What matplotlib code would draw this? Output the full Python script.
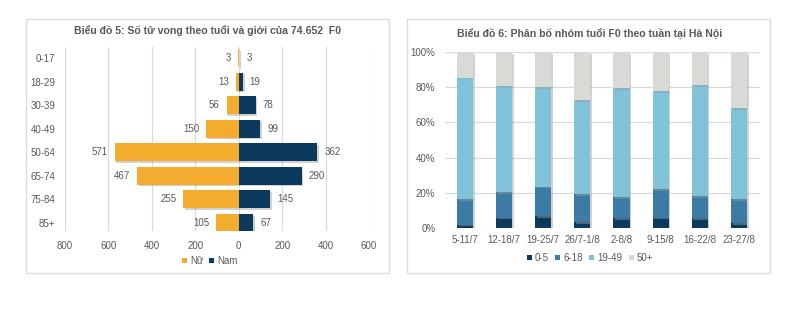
import matplotlib
matplotlib.use("Agg")
import matplotlib.pyplot as plt
import matplotlib.patheffects as pe
from matplotlib.patches import Rectangle
from matplotlib.ticker import FuncFormatter
import numpy as np

plt.rcParams['font.family'] = ['Liberation Sans', 'DejaVu Sans']

# deaths by age group and sex
ages = ['0-17', '18-29', '30-39', '40-49', '50-64', '65-74', '75-84', '85+']
female = [3, 13, 56, 150, 571, 467, 255, 105]
male = [3, 19, 78, 99, 362, 290, 145, 67]

# weekly F0 age distribution in Hanoi (percent)
weeks = ['5-11/7', '12-18/7', '19-25/7', '26/7-1/8', '2-8/8', '9-15/8', '16-22/8', '23-27/8']
groups = ['0-5', '6-18', '19-49', '50+']
g0_5 = [1.9, 5.8, 6.8, 3.2, 5.5, 5.8, 5.5, 2.8]
g6_18 = [14.5, 14.6, 16.6, 15.9, 11.9, 16.3, 12.6, 13.6]
g19_49 = [69.1, 60.2, 56.6, 53.7, 62.2, 55.8, 63.0, 51.5]
g50 = [14.5, 19.4, 20.0, 27.2, 20.4, 22.1, 18.9, 32.1]

TXT = '#595959'
GRID = '#D9D9D9'
ORANGE = '#F4AC2E'
NAVY = '#0C3A5F'
group_colors = ['#0B3A5E', '#3B7BA6', '#80C3D8', '#D8DAD6']
shadow = [pe.SimplePatchShadow(offset=(1.2, -1.2), shadow_rgbFace='#9a9a9a', alpha=0.45), pe.Normal()]
FS = 7.0

W, H = 810, 326
fig = plt.figure(figsize=(W / 100, H / 100), dpi=100)
fig.patch.set_facecolor('white')

def fx(px):
    return px / W

def fy(py):
    return 1 - py / H

# panel frames
for x0, x1 in [(26, 389), (407, 770)]:
    fig.patches.append(Rectangle((fx(x0), fy(273)), fx(x1 - x0), (273 - 19) / H,
                                 transform=fig.transFigure, fill=False,
                                 edgecolor='#DCDCDC', lw=1.0))

# ---- left: population-pyramid style bars
ax1 = fig.add_axes([fx(65), fy(231), fx(304), 184 / H])
y = np.arange(len(ages))
bh = 0.76
bf = ax1.barh(y, [-v for v in female], height=bh, color=ORANGE, label='Nữ', zorder=3)
bm = ax1.barh(y, male, height=bh, color=NAVY, label='Nam', zorder=3)
for i in range(len(ages)):
    ax1.annotate(str(female[i]), (-female[i], y[i]), xytext=(-5, 0), textcoords='offset points',
                 ha='right', va='center', fontsize=FS, color=TXT)
    ax1.annotate(str(male[i]), (male[i], y[i]), xytext=(5, 0), textcoords='offset points',
                 ha='left', va='center', fontsize=FS, color=TXT)
ax1.set_xlim(-800, 600)
ax1.set_ylim(7.34, -0.467)
ax1.set_xticks(range(-800, 601, 200))
ax1.xaxis.set_major_formatter(FuncFormatter(lambda v, p: f'{abs(int(v))}'))
ax1.set_yticks(y)
ax1.set_yticklabels(ages)
ax1.grid(axis='x', color=GRID, lw=0.9, zorder=0)
ax1.tick_params(length=0, labelsize=FS, labelcolor=TXT)
ax1.tick_params(axis='y', pad=7)
ax1.tick_params(axis='x', pad=7)
for s in ax1.spines.values():
    s.set_visible(False)
fig.text(fx(208), fy(31), 'Biểu đồ 5: Số tử vong theo tuổi và giới của 74.652  F0',
         ha='center', va='center', fontsize=7.6, fontweight='bold', color=TXT)
ax1.legend(loc='center', bbox_to_anchor=(fx(210), fy(261)), bbox_transform=fig.transFigure,
           ncol=2, frameon=False, fontsize=FS, labelcolor=TXT, handlelength=0.5,
           handleheight=0.5, handletextpad=0.3, columnspacing=0.6)
# soft drop shadow on the bars only (added after the legend so its keys stay flat)
for b in list(bf) + list(bm):
    b.set_path_effects(shadow)

# ---- right: 100% stacked columns
ax2 = fig.add_axes([fx(445), fy(228), fx(315), 176 / H])
x = np.arange(len(weeks))
bw = 0.41
bottom = np.zeros(len(weeks))
stacks = []
for vals, col, lab in zip([g0_5, g6_18, g19_49, g50], group_colors, groups):
    v = np.array(vals) / 100
    stacks.append(ax2.bar(x, v, bw, bottom=bottom, color=col, label=lab, zorder=3))
    bottom += v
ax2.set_ylim(0, 1)
ax2.set_xlim(-0.51, 7.54)
ax2.set_yticks(np.arange(0, 1.01, 0.2))
ax2.yaxis.set_major_formatter(FuncFormatter(lambda v, p: f'{v * 100:.0f}%'))
ax2.set_xticks(x)
ax2.set_xticklabels(weeks)
ax2.grid(axis='y', color=GRID, lw=0.9, zorder=0)
ax2.tick_params(length=0, labelsize=FS, labelcolor=TXT)
ax2.tick_params(axis='y', pad=7)
ax2.tick_params(axis='x', pad=5)
for s in ax2.spines.values():
    s.set_visible(False)
fig.text(fx(590), fy(33), 'Biểu đồ 6: Phân bố nhóm tuổi F0 theo tuần tại Hà Nội',
         ha='center', va='center', fontsize=7.6, fontweight='bold', color=TXT)
ax2.legend(loc='center', bbox_to_anchor=(fx(590), fy(258)), bbox_transform=fig.transFigure,
           ncol=4, frameon=False, fontsize=FS, labelcolor=TXT, handlelength=0.5,
           handleheight=0.5, handletextpad=0.3, columnspacing=0.7)
for bars in stacks:
    for b in bars:
        b.set_path_effects(shadow)

fig.savefig('out.png', dpi=100, facecolor='white')
